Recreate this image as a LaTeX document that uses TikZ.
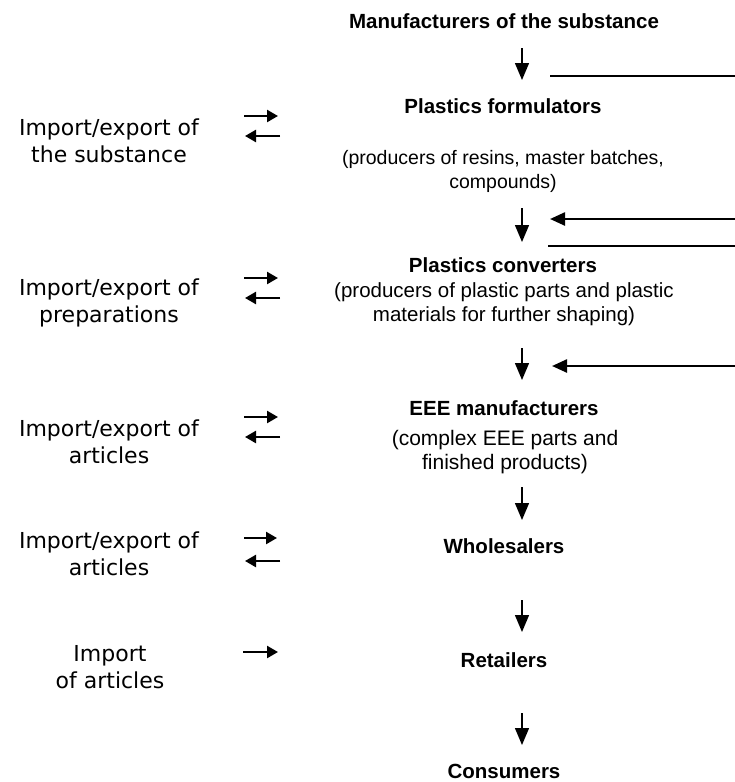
\documentclass[tikz,border=0pt]{standalone}
\usepackage{fontspec}
\setmainfont{Liberation Sans}
\newfontfamily\sidefont{DejaVu Sans}
\usetikzlibrary{arrows.meta}
\begin{document}
\begin{tikzpicture}[x=1pt,y=-1pt,
  title/.style={font=\fontsize{20.5}{24}\selectfont\bfseries, align=center, inner sep=0pt, anchor=base},
  sub/.style={font=\fontsize{#1}{23.5}\selectfont, align=center, inner sep=0pt, anchor=base},
  side/.style={font=\sidefont\fontsize{22}{26.5}\selectfont, align=center, inner sep=0pt, anchor=base},
  down/.style={-{Triangle[length=17pt,width=14pt]}, line width=1.4pt},
  feed/.style={-{Triangle[length=15pt,width=13pt]}, line width=2.4pt},
  bar/.style={line width=2.6pt},
  small/.style={-{Triangle[length=11pt,width=12pt]}, line width=2.4pt}]
\useasboundingbox[fill=white] (0,0) rectangle (735,782);

% central column (multi-line nodes: base = baseline of last line)
\node[title] (man) at (504,28) {Manufacturers of the substance};
\node[title] (form) at (503,113) {Plastics formulators};
\node[sub=19.5] (formsub) at (503,188) {(producers of resins, master batches,\\compounds)};
\node[title] (conv) at (503,272) {Plastics converters};
\node[sub=20.5] (convsub) at (504,321) {(producers of plastic parts and plastic\\materials for further shaping)};
\node[title] (eee) at (504,415) {EEE manufacturers};
\node[sub=21] (eeesub) at (505,469) {(complex EEE parts and\\finished products)};
\node[title] (whole) at (504,553) {Wholesalers};
\node[title] (ret) at (504,667) {Retailers};
\node[title] (cons) at (504,778) {Consumers};

% side texts
\node[side] (s1) at (109,162) {Import/export of\\the substance};
\node[side] (s2) at (109,322) {Import/export of\\preparations};
\node[side] (s3) at (109,463) {Import/export of\\articles};
\node[side] (s4) at (109,575) {Import/export of\\articles};
\node[side] (s5) at (110,688) {Import\\of articles};

% vertical flow arrows
\coordinate (a1s) at (522,48);  \coordinate (a1e) at (522,80);
\coordinate (a2s) at (522,208); \coordinate (a2e) at (522,242);
\coordinate (a3s) at (522,348); \coordinate (a3e) at (522,380);
\coordinate (a4s) at (522,487); \coordinate (a4e) at (522,520);
\coordinate (a5s) at (522,600); \coordinate (a5e) at (522,632);
\coordinate (a6s) at (522,713); \coordinate (a6e) at (522,745);
\draw[down] (a1s) -- (a1e);
\draw[down] (a2s) -- (a2e);
\draw[down] (a3s) -- (a3e);
\draw[down] (a4s) -- (a4e);
\draw[down] (a5s) -- (a5e);
\draw[down] (a6s) -- (a6e);

% right-hand lines
\coordinate (r1s) at (550,76);  \coordinate (r1e) at (735,76);
\coordinate (r2s) at (735,219); \coordinate (r2e) at (550,219);
\coordinate (r3s) at (548,246); \coordinate (r3e) at (735,246);
\coordinate (r4s) at (735,366); \coordinate (r4e) at (552,366);
\draw[bar] (r1s) -- (r1e);
\draw[feed] (r2s) -- (r2e);
\draw[bar] (r3s) -- (r3e);
\draw[feed] (r4s) -- (r4e);

% import/export arrows
\coordinate (i1a) at (244,116); \coordinate (i1b) at (278,116);
\coordinate (e1a) at (280,136); \coordinate (e1b) at (245,136);
\coordinate (i2a) at (244,278); \coordinate (i2b) at (278,278);
\coordinate (e2a) at (280,298); \coordinate (e2b) at (245,298);
\coordinate (i3a) at (244,417); \coordinate (i3b) at (278,417);
\coordinate (e3a) at (280,437); \coordinate (e3b) at (245,437);
\coordinate (i4a) at (244,538); \coordinate (i4b) at (277,538);
\coordinate (e4a) at (280,561); \coordinate (e4b) at (245,561);
\coordinate (i5a) at (243,652); \coordinate (i5b) at (278,652);
\draw[small] (i1a) -- (i1b);
\draw[small] (e1a) -- (e1b);
\draw[small] (i2a) -- (i2b);
\draw[small] (e2a) -- (e2b);
\draw[small] (i3a) -- (i3b);
\draw[small] (e3a) -- (e3b);
\draw[small] (i4a) -- (i4b);
\draw[small] (e4a) -- (e4b);
\draw[small] (i5a) -- (i5b);
\end{tikzpicture}
\end{document}
